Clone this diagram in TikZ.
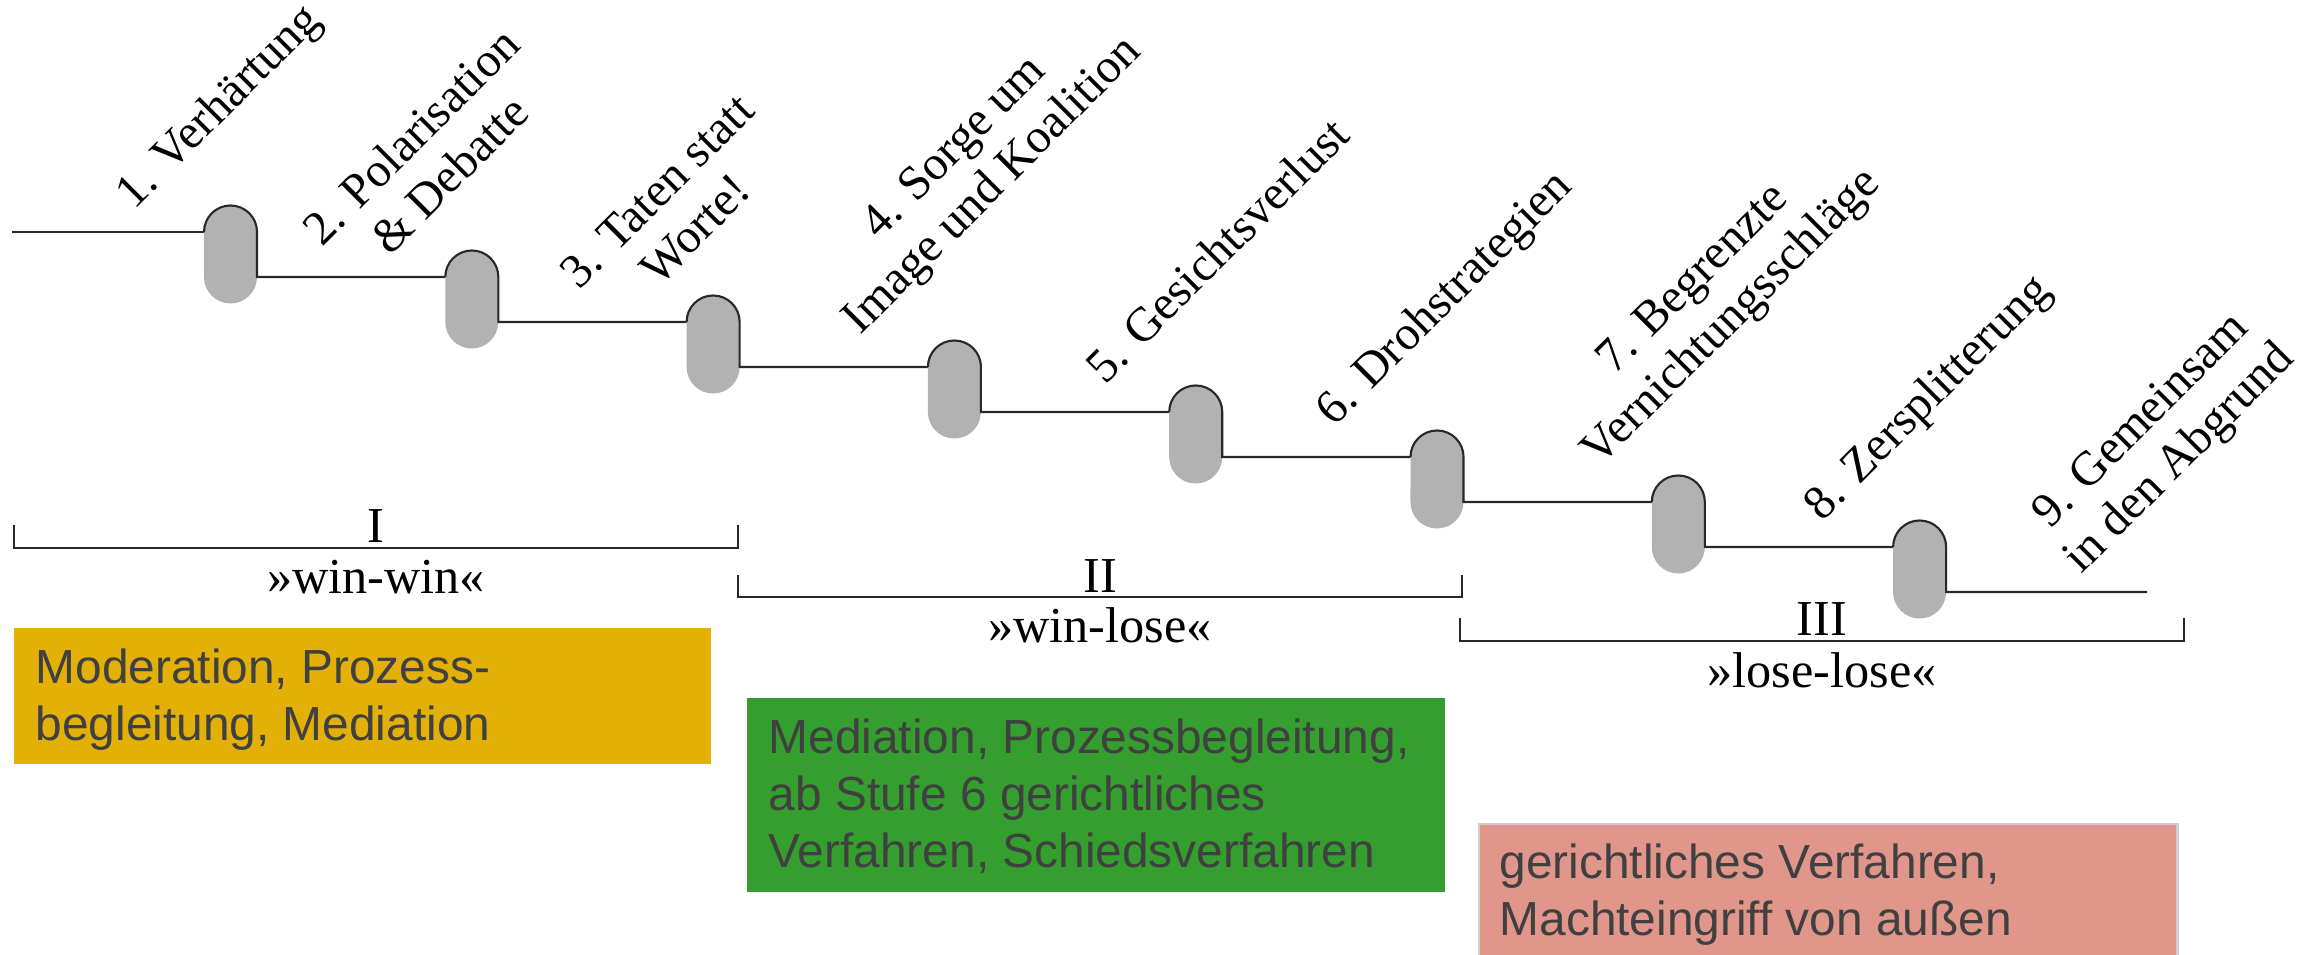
\documentclass[tikz,border=0pt]{standalone}
\usepackage{fontspec}
\setmainfont{Liberation Serif}
\newfontfamily\boxsans{Liberation Sans}
\definecolor{pillgray}{RGB}{178,178,178}
\definecolor{boxorange}{RGB}{226,176,7}
\definecolor{boxgreen}{RGB}{52,158,46}
\definecolor{boxpink}{RGB}{224,150,139}
\definecolor{boxtext}{RGB}{64,64,64}
\definecolor{boxborder}{RGB}{206,206,206}
\definecolor{linecol}{RGB}{40,40,40}
\begin{document}
\begin{tikzpicture}[x=0.01cm,y=0.01cm,
  stair/.style={draw=linecol, line width=0.6pt},
  bracket/.style={draw=linecol, line width=0.7pt},
  stagelabel/.style={rotate=45, align=center, inner sep=0pt, font=\fontsize{13.7}{15.4}\selectfont},
  phase/.style={inner sep=0pt, anchor=base, font=\fontsize{14.3}{16}\selectfont},
  panel/.style={anchor=north west, inner sep=0pt},
  paneltext/.style={anchor=west, align=left, inner sep=0pt, text=boxtext, font=\boxsans\fontsize{13.6}{16.2}\selectfont}]
\useasboundingbox (0,0) rectangle (2300,-955);

% stair steps with pills
\foreach \i in {1,...,8}{
  \pgfmathsetmacro\L{204+(\i-1)*241.3}
  \pgfmathsetmacro\Y{-232-(\i-1)*45}
  \pgfmathsetmacro\Yn{\Y-45}
  \pgfmathsetmacro\R{\L+53}
  \pgfmathsetmacro\E{\i<8 ? \L+241.3 : 2147}
  \coordinate (p\i) at (\L,\Y);
  \fill[pillgray] (p\i) arc[start angle=180,end angle=0,radius=0.265cm] -- (\R,\Yn) arc[start angle=0,end angle=-180,radius=0.265cm] -- cycle;
  \draw[stair] (p\i) arc[start angle=180,end angle=0,radius=0.265cm] -- (\R,\Yn) -- (\E,\Yn);
}
\coordinate (start) at (12,-232);
\draw[stair] (start) -- (p1);

% stage labels
\node[stagelabel] (s1) at (220,-108) {1. Verhärtung};
\node[stagelabel] (s2) at (430,-155) {2. Polarisation\\\& Debatte};
\node[stagelabel] (s3) at (676,-210) {3. Taten statt\\Worte!};
\node[stagelabel] (s4) at (975,-168) {4. Sorge um\\Image und Koalition};
\node[stagelabel] (s5) at (1217,-250) {5. Gesichtsverlust};
\node[stagelabel] (s6) at (1446,-300) {6. Drohstrategien};
\node[stagelabel] (s7) at (1714,-300) {7. Begrenzte\\Vernichtungsschläge};
\node[stagelabel] (s8) at (1929,-399) {8. Zersplitterung};
\node[stagelabel] (s9) at (2162,-441) {9. Gemeinsam\\in den Abgrund};

% phase brackets
\draw[bracket] (14,-525) -- (14,-548) -- (738,-548) -- (738,-525);
\draw[bracket] (738,-575) -- (738,-597) -- (1462,-597) -- (1462,-575);
\draw[bracket] (1460,-618) -- (1460,-641) -- (2184,-641) -- (2184,-618);
\node[phase] (ph1) at (376,-542) {I};
\node[phase] (ph1b) at (376,-593) {»win-win«};
\node[phase] (ph2) at (1100,-592) {II};
\node[phase] (ph2b) at (1100,-642) {»win-lose«};
\node[phase] (ph3) at (1822,-635) {III};
\node[phase] (ph3b) at (1822,-687) {»lose-lose«};

% intervention boxes
\node[panel, fill=boxorange, minimum width=6.97cm, minimum height=1.36cm] (b1) at (13,-627) {};
\node[paneltext] (t1) at (35,-699.4) {Moderation, Prozess-\\begleitung, Mediation};
\node[panel, fill=boxgreen, minimum width=6.98cm, minimum height=1.94cm] (b2) at (746,-697) {};
\node[paneltext] (t2) at (768,-796) {Mediation, Prozessbegleitung,\\ab Stufe 6 gerichtliches\\Verfahren, Schiedsverfahren};
\begin{scope}
  \clip (0,0) rectangle (2300,-955);
  \node[panel, fill=boxpink, draw=boxborder, line width=0.6pt, minimum width=6.98cm, minimum height=1.6cm] (b3) at (1478,-823) {};
\end{scope}
\node[paneltext] (t3) at (1499,-895) {gerichtliches Verfahren,\\Machteingriff von außen};
\end{tikzpicture}
\end{document}
